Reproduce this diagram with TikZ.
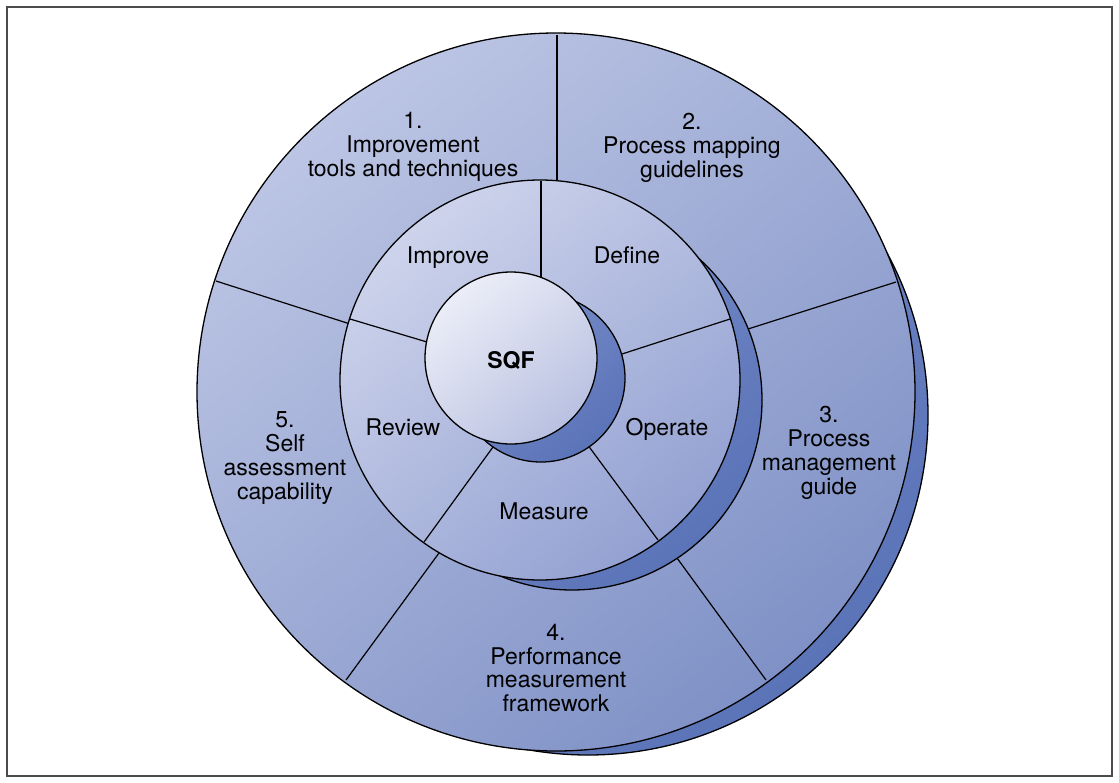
\documentclass[tikz,border=0pt]{standalone}
\usepackage{fontspec}
\setmainfont{TeX Gyre Heros}
\usetikzlibrary{calc}

\definecolor{outerA}{HTML}{BCC5E4}
\definecolor{outerB}{HTML}{7F91C6}
\definecolor{midA}{HTML}{CDD3EB}
\definecolor{midB}{HTML}{93A1D2}
\definecolor{innerA}{HTML}{EBEDF7}
\definecolor{innerB}{HTML}{B9C1E1}
\definecolor{shadeA}{HTML}{5B74B8}
\definecolor{shadeB}{HTML}{7A8FCA}

\begin{document}
\begin{tikzpicture}[x=0.5pt,y=0.5pt,
  disc/.style={draw=black,line width=0.65pt},
  ring/.style 2 args={disc,top color=#1,bottom color=#2,shading angle=40},
  divider/.style={line width=0.6pt},
  lbl/.style={align=center,inner sep=0pt,font=\fontsize{11.5}{11.9}\selectfont}]
  \useasboundingbox (0,0) rectangle (1119,-782);
  \draw[line width=1.2pt,black!70] (7,-7) rectangle (1112,-776);

  \coordinate (O) at (556,-392);
  \coordinate (Os) at (588,-415);
  \coordinate (M) at (540,-380);
  \coordinate (Ms) at (572,-400);
  \coordinate (I) at (511,-358);
  \coordinate (Is) at (541,-378);

  % outer ring
  \draw[ring={shadeB}{shadeA}] (Os) circle[radius=340];
  \draw[ring={outerA}{outerB}] (O) circle[radius=359];
  \foreach \xa/\ya/\xb/\yb in {557/35/557/178, 216/281/347/323, 896/282/748/329,
      766/680/677/558, 346/680/439/553}
    {\draw[divider] (\xa,-\ya) -- ($(\xa,-\ya)!1.15!(\xb,-\yb)$);}

  % middle ring
  \draw[ring={shadeB}{shadeA}] (Ms) circle[radius=190];
  \draw[ring={midA}{midB}] (M) circle[radius=200];
  \foreach \xa/\ya/\xb/\yb in {541/181/541/277, 350/319/427/342, 730/319/622/354,
      658/540/590/448, 424/542/493/447}
    {\draw[divider] (\xa,-\ya) -- ($(\xa,-\ya)!1.15!(\xb,-\yb)$);}

  % centre
  \draw[ring={shadeB}{shadeA}] (Is) circle[radius=84];
  \draw[ring={innerA}{innerB}] (I) circle[radius=86];

  \node[lbl] (tools) at (413,-147) {1.\\Improvement\\tools and techniques};
  \node[lbl] (mapping) at (692,-148) {2.\\Process mapping\\guidelines};
  \node[lbl] (manage) at (829,-453) {3.\\Process\\management\\guide};
  \node[lbl] (perf) at (556,-668) {4.\\Performance\\measurement\\framework};
  \node[lbl] (self) at (285,-458) {5.\\Self\\assessment\\capability};

  \node[lbl,anchor=base] (improve) at (448,-263) {Improve};
  \node[lbl,anchor=base] (define) at (627,-263) {Define};
  \node[lbl,anchor=base] (operate) at (667,-435) {Operate};
  \node[lbl,anchor=base] (measure) at (544,-519) {Measure};
  \node[lbl,anchor=base] (review) at (403,-435) {Review};
  \node[lbl,anchor=base,font=\fontsize{11.5}{11.9}\selectfont\bfseries] (sqf) at (511,-368) {SQF};
\end{tikzpicture}
\end{document}
